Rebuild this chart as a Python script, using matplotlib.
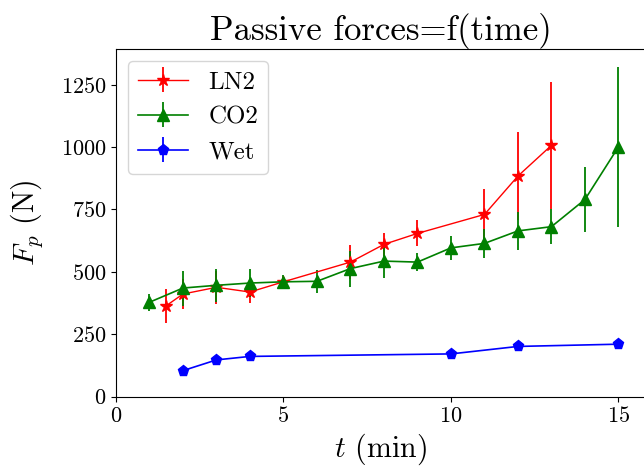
import matplotlib
matplotlib.use("Agg")
import matplotlib.pyplot as plt

matplotlib.rcParams["font.family"] = "serif"
matplotlib.rcParams["font.serif"] = ["cmr10", "DejaVu Serif"]
matplotlib.rcParams["mathtext.fontset"] = "cm"
matplotlib.rcParams["axes.formatter.use_mathtext"] = True

# LN2
ln2_t = [1.5, 2, 3, 4, 5, 7, 8, 9, 11, 12, 13]
ln2_f = [364, 411, 438, 419, 460, 539, 610, 654, 730, 884, 1007]
ln2_err = [68, 59, 67, 45, 20, 69, 45, 52, 100, 176, 255]

# CO2
co2_t = [1, 2, 3, 4, 5, 6, 7, 8, 9, 10, 11, 12, 13, 14, 15]
co2_f = [378, 435, 446, 455, 460, 462, 513, 543, 539, 596, 614, 664, 681, 790, 1001]
co2_err = [33, 70, 65, 57, 28, 47, 72, 66, 36, 48, 59, 75, 71, 129, 321]

# Wet
wet_t = [2, 3, 4, 10, 12, 15]
wet_f = [104, 147, 161, 171, 201, 210]
wet_err = [3, 3, 3, 3, 3, 3]

fig = plt.figure(figsize=(6.44, 4.71), dpi=100)
ax = fig.add_axes([0.180, 0.158, 0.822, 0.739])

ax.errorbar(ln2_t, ln2_f, yerr=ln2_err, color="red", marker="*", markersize=9,
            linewidth=1, elinewidth=1.3, label="LN2")
ax.errorbar(co2_t, co2_f, yerr=co2_err, color="green", marker="^", markersize=8,
            linewidth=1.2, elinewidth=1.3, label="CO2")
ax.errorbar(wet_t, wet_f, yerr=wet_err, color="blue", marker="p", markersize=8,
            linewidth=1.2, elinewidth=1.3, label="Wet")

ax.set_xlim(0, 15.8)
ax.set_ylim(0, 1395)
ax.set_xticks([0, 5, 10, 15])
ax.set_yticks([0, 250, 500, 750, 1000, 1250])
ax.tick_params(labelsize=16)

ax.set_title("Passive forces=f(time)", fontsize=25)
ax.set_xlabel(r"$t$ (min)", fontsize=21.5)
ax.set_ylabel(r"$F_p$ (N)", fontsize=21.5, labelpad=11)

ax.legend(loc="upper left", fontsize=18)

fig.savefig("out.png", dpi=100)
